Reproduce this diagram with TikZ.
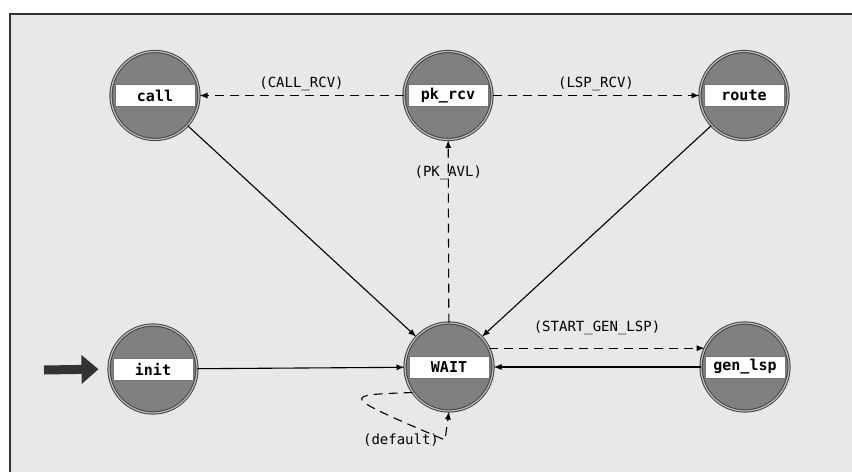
\documentclass[tikz,border=0pt]{standalone}
\usepackage{fontspec}
\setmonofont{DejaVu Sans Mono}
\usetikzlibrary{positioning,arrows.meta}

\begin{document}
\begin{tikzpicture}[
	x=1pt,y=-1pt,
	font=\ttfamily\fontsize{14}{16}\selectfont,
	>={Latex[length=8pt,width=6pt]},
	band/.style={rectangle,draw=black!55,line width=0.8pt,fill=white,
		minimum width=80pt,minimum height=22pt,inner sep=1pt,
		font=\ttfamily\bfseries\fontsize{15}{17}\selectfont},
	state/.style={circle,draw=black!75,double=black!25,double distance=1.2pt,
		line width=1pt,fill=black!50,minimum size=88pt,inner sep=0pt,
		label={[band]center:#1}},
	trans/.style={line width=1.1pt,->},
	cond/.style={line width=1.1pt,->,dash pattern=on 9pt off 6pt},
	startarrow/.style={line width=9pt,black!80,-{Triangle[length=17pt,width=28pt]}},
	]
	
	% Frame and background
	\useasboundingbox (0,0) rectangle (852,472);
	\fill[gray!18] (10,14) rectangle (852,472);
	\draw[line width=2pt,black!80] (10,472) -- (10,14) -- (852,14);
	
	% Top row
	\node[state=call] (call) at (155,95.5) {};
	\node[state=pk\_rcv] (pkrcv) at (448,95.5) {};
	\node[state=route] (route) at (744,95.5) {};
	
	% Bottom row
	\node[state=init] (init) at (153,369) {};
	\node[state=WAIT] (wait) at (449,367) {};
	\node[state=gen\_lsp] (genlsp) at (745,367) {};
	
	% Start marker
	\coordinate (start) at (44,370);
	\draw[startarrow,shorten >=10pt] (start) -- (init.west);
	
	% Unconditional transitions
	\draw[trans] (call) -- (wait);
	\draw[trans] (route) -- (wait);
	\draw[trans] (init) -- (wait);
	\draw[trans] (genlsp) -- (wait);
	
	% Conditional transitions
	\draw[cond] (pkrcv) -- node[midway,above=1pt] {(CALL\_RCV)} (call);
	\draw[cond] (pkrcv) -- node[midway,above=1pt] {(LSP\_RCV)} (route);
	\draw[cond] (wait) -- node[pos=0.82] {(PK\_AVL)} (pkrcv);
	\draw[cond] (wait.25) -- node[midway,above=10pt] {(START\_GEN\_LSP)} (genlsp.155);
	
	% Default self loop
	\coordinate (loopbot) at (445,440);
	\draw[cond] (wait.215) .. controls (340,395) .. (loopbot) -- (wait.south);
	\node (dflt) at (401,440) {(default)};
	
\end{tikzpicture}
\end{document}
